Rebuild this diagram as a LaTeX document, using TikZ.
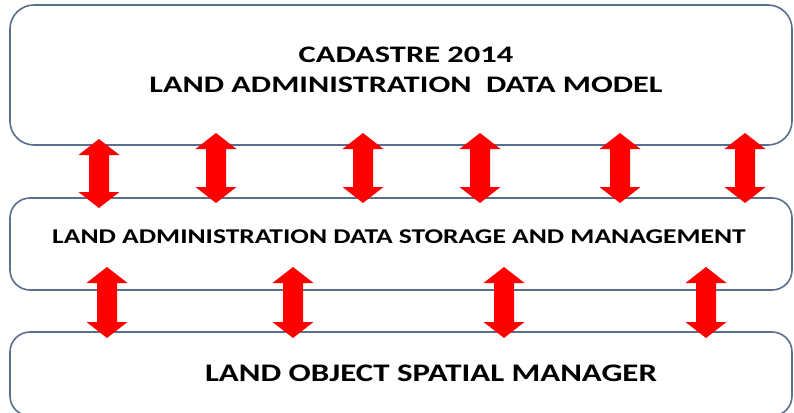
\documentclass[tikz,border=0pt]{standalone}
\usepackage{fontspec}
\setmainfont{Carlito}
\tikzset{
  layerbox/.style={draw=boxline, line width=1.6pt, fill=white, rounded corners=24pt},
  layertext/.style={text=black, inner sep=0pt, anchor=base},
  blockarrow/.style={fill=arrowred, draw=none},
}
\definecolor{boxline}{HTML}{5A6E8E}
\definecolor{arrowred}{HTML}{FF0000}
% wide bold lettering
\newcommand\widetext[3]{{\fontsize{#1}{#1}\selectfont\bfseries\scalebox{#2}[1]{#3}}}
% two-headed block arrow: centre x, tip top, tip bottom
\newcommand\twoheadarrow[3]{%
  \fill[blockarrow] (#1,#2) -- ++(20.5,16) -- ++(-10.5,0) -- (#1+10,#3-16)
    -- ++(10.5,0) -- (#1,#3) -- ++(-20.5,-16) -- ++(10.5,0)
    -- (#1-10,#2+16) -- ++(-10.5,0) -- cycle;}
\begin{document}
\begin{tikzpicture}[x=1pt,y=-1pt]
\useasboundingbox (0,0) rectangle (794,412);
\fill[white] (0,0) rectangle (794,412);
% three layers
\draw[layerbox] (10,5) rectangle (792,145);
\draw[layerbox, rounded corners=20pt] (10,198) rectangle (792,290);
\draw[layerbox, rounded corners=20pt] (10,332) rectangle (792,416);
\node[layertext] (model1) at (406,63) {\widetext{23.7}{1.37}{CADASTRE 2014}};
\node[layertext] (model2) at (406,92) {\widetext{23.7}{1.36}{LAND ADMINISTRATION\ \ DATA MODEL}};
\node[layertext] (storage) at (399,243) {\widetext{21}{1.31}{LAND ADMINISTRATION DATA STORAGE AND MANAGEMENT}};
\node[layertext] (spatial) at (431,381) {\widetext{25.3}{1.30}{LAND OBJECT SPATIAL MANAGER}};
% links between model and storage
\twoheadarrow{99}{139}{208}
\twoheadarrow{216}{133}{203}
\twoheadarrow{363}{133}{203}
\twoheadarrow{480}{133}{203}
\twoheadarrow{620}{133}{203}
\twoheadarrow{745}{133}{203}
% links between storage and spatial manager
\twoheadarrow{107}{267}{338}
\twoheadarrow{293}{267}{338}
\twoheadarrow{504}{267}{338}
\twoheadarrow{706}{267}{338}
\end{tikzpicture}
\end{document}
